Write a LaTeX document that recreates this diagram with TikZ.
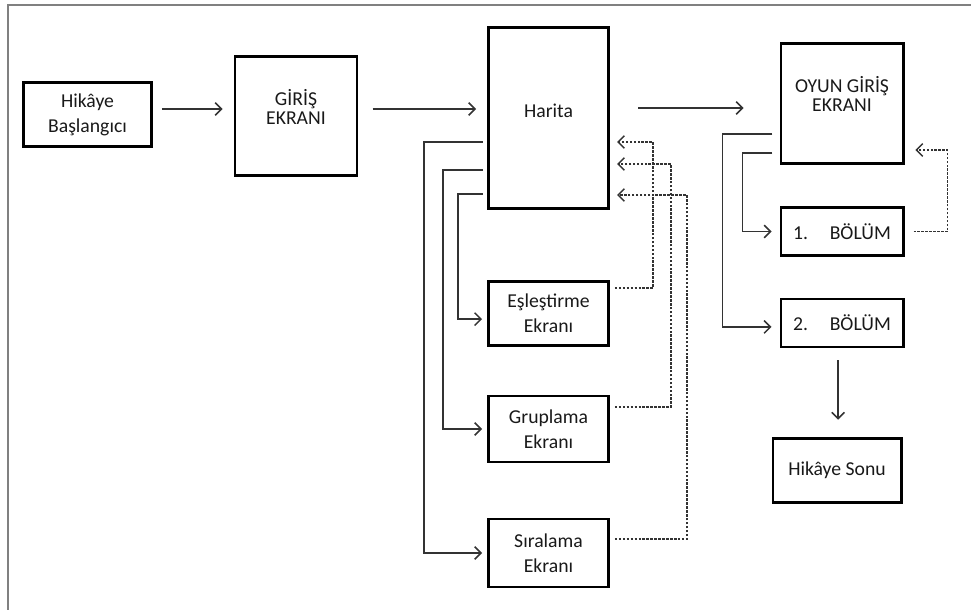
\documentclass[tikz,border=0pt]{standalone}
\usepackage{fontspec}
\setmainfont{Carlito}
\usetikzlibrary{arrows.meta}

\begin{document}
\begin{tikzpicture}[x=0.025cm, y=-0.025cm,
    kutu/.style={draw=black, line width=2.1pt, align=center, inner sep=2pt,
      font=\fontsize{14}{17.7}\selectfont, text=black!90},
    yazi/.style={align=center, inner sep=0pt, font=\fontsize{14}{13.5}\selectfont, text=black!90},
    ok/.style={draw=black!80, line width=1.1pt, -{Straight Barb[length=4.5pt,width=9pt]}},
    kesik/.style={ok, line width=1pt, dash pattern=on 1.8pt off 1pt}]

  \useasboundingbox (0,0) rectangle (971,610);
  \draw[gray, line width=0.8pt] (8,610) -- (8,5) -- (971,5);

  % Ust sira
  \node[kutu, minimum width=3.2cm, minimum height=1.6cm] (baslangic) at (87.5,114.5) {Hikâye\\Başlangıcı};
  \node[kutu, minimum width=3.05cm, minimum height=2.98cm] (giris) at (296,116) {};
  \node[yazi] (giris-t) at (296,107) {GİRİŞ\\EKRANI};
  \node[kutu, minimum width=3cm, minimum height=4.5cm] (harita) at (548.5,118) {};
  \node[yazi] (harita-t) at (548.5,110.5) {Harita};
  \node[kutu, minimum width=3.05cm, minimum height=2.98cm] (oyun) at (842,103.5) {};
  \node[yazi] (oyun-t) at (842,93.5) {OYUN GİRİŞ\\EKRANI};

  % Harita alt ekranlari
  \node[kutu, minimum width=3cm, minimum height=1.62cm] (eslestirme) at (548.5,313.5) {Eşleştirme\\Ekranı};
  \node[kutu, minimum width=3cm, minimum height=1.65cm] (gruplama) at (548.5,429) {Gruplama\\Ekranı};
  \node[kutu, minimum width=3cm, minimum height=1.7cm] (siralama) at (548.5,553) {Sıralama\\Ekranı};

  % Bolumler
  \node[kutu, minimum width=3.05cm, minimum height=1.22cm] (bolum1) at (842,231.5) {1.\hspace{1.1em}BÖLÜM};
  \node[kutu, minimum width=3.05cm, minimum height=1.2cm] (bolum2) at (842,323) {2.\hspace{1.1em}BÖLÜM};
  \node[kutu, minimum width=3.2cm, minimum height=1.62cm] (sonu) at (837,470.5) {Hikâye Sonu};

  % Ana akis
  \draw[ok, shorten <=6.4pt, shorten >=7.8pt] (baslangic.east |- 0,109) -- (giris.west |- 0,109);
  \draw[ok, shorten <=10pt, shorten >=7.8pt] (giris.east |- 0,109) -- (harita.west |- 0,109);
  \draw[ok, shorten <=20pt, shorten >=25.5pt] (harita.east |- 0,108) -- (oyun.west |- 0,108);

  % Haritadan ekranlara
  \draw[ok, shorten >=3.5pt] ([xshift=-3pt]harita.west |- 0,142) -- ++(-59,0) |- (siralama.west);
  \draw[ok, shorten >=3.5pt] ([xshift=-3pt]harita.west |- 0,170) -- ++(-40,0) |- (gruplama.west);
  \draw[ok, shorten >=3.5pt] ([xshift=-3pt]harita.west |- 0,194) -- ++(-25,0) |- ([yshift=-4pt]eslestirme.west);

  % Haritaya donus
  \draw[kesik, shorten >=5pt] ([xshift=3.5pt]eslestirme.east |- 0,288) -- ++(38,0) |- (harita.east |- 0,142);
  \draw[kesik, shorten >=5pt] ([xshift=3.5pt]gruplama.east |- 0,407) -- ++(56,0) |- (harita.east |- 0,164);
  \draw[kesik, shorten >=5pt] ([xshift=3.5pt]siralama.east |- 0,539) -- ++(72,0) |- (harita.east |- 0,195);

  % Oyun bolumleri
  \draw[ok, shorten >=5.7pt] ([xshift=-5pt]oyun.west |- 0,134) -- ++(-50,0) |- ([yshift=-2.8pt]bolum2.west);
  \draw[ok, shorten >=5.7pt] ([xshift=-5pt]oyun.west |- 0,153) -- ++(-30,0) |- (bolum1.west);
  \draw[kesik, shorten >=7.8pt] ([xshift=6.4pt]bolum1.east) -- ++(34,0) |- (oyun.east |- 0,150);
  \draw[ok, shorten <=8.5pt, shorten >=12pt] ([xshift=-2.8pt]bolum2.south) -- ([xshift=-2.8pt]bolum2.south |- sonu.north);
\end{tikzpicture}
\end{document}
